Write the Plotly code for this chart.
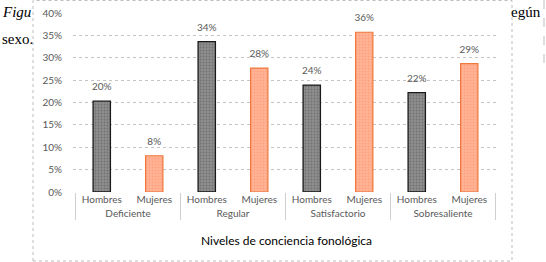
import plotly.graph_objects as go

categories = ["Deficiente", "Regular", "Satisfactorio", "Sobresaliente"]
series_names = ["Hombres", "Mujeres"]
hombres = [20.3, 33.6, 23.9, 22.2]
mujeres = [8.1, 27.7, 35.7, 28.7]
y_ticks = [0, 5, 10, 15, 20, 25, 30, 35, 40]
y_tick_labels = ["0%", "5%", "10%", "15%", "20%", "25%", "30%", "35%", "40%"]
axis_title = "Niveles de conciencia fonológica"

W, H = 546, 262
L, R, T, B = 73, 498, 13, 192  # plot area in pixels


def px(x):
    return (x - L) / (R - L)


def py(y):
    return (B - y) / (B - T)


FONT = "Lato, Calibri, Carlito, sans-serif"

styles = {
    series_names[0]: dict(color="#8a8a8a", line=dict(color="#1a1a1a", width=1.3),
                          pattern=dict(shape=".", fgcolor="#555555", bgcolor="#8e8e8e",
                                       size=3, solidity=0.3)),
    series_names[1]: dict(color="#ffab8c", line=dict(color="#f0783c", width=1.2),
                          pattern=dict(shape=".", fgcolor="#ff8a66", bgcolor="#ffb496",
                                       size=3, solidity=0.3)),
}

fig = go.Figure()
for name, vals in zip(series_names, [hombres, mujeres]):
    xs = [categories, [name] * len(categories)]
    fig.add_trace(go.Bar(name=name, x=xs, y=vals, width=0.33,
                         marker=styles[name], hoverinfo="x+y"))
for name, vals in zip(series_names, [hombres, mujeres]):
    xs = [categories, [name] * len(categories)]
    fig.add_trace(go.Scatter(
        x=xs, y=vals, mode="markers+text",
        marker=dict(size=12, color="rgba(0,0,0,0)"),
        text=[f"{v:.0f}%" for v in vals], textposition="top center",
        textfont=dict(family=FONT, size=10, color="#595959"),
        cliponaxis=False, hoverinfo="skip", showlegend=False,
    ))

shapes = [
    dict(type="rect", xref="paper", yref="paper",
         x0=px(33), x1=px(512), y0=py(261), y1=py(0.5),
         line=dict(color="#bdbdbd", width=1, dash="dot")),
    dict(type="line", xref="paper", yref="paper",
         x0=px(544), x1=px(544), y0=py(0), y1=py(67),
         line=dict(color="#bdbdbd", width=1, dash="dash")),
]

annotations = [
    dict(text=axis_title, xref="paper", yref="paper", x=px(286), y=py(240),
         showarrow=False, xanchor="center", yanchor="middle",
         font=dict(family=FONT, size=12, color="#000000")),
    dict(text="<i>Figu</i>", xref="paper", yref="paper", x=px(0), y=py(12),
         showarrow=False, xanchor="left", yanchor="middle",
         font=dict(family="Liberation Serif, serif", size=15, color="#000000")),
    dict(text="sexo.", xref="paper", yref="paper", x=px(0), y=py(39),
         showarrow=False, xanchor="left", yanchor="middle",
         font=dict(family="Liberation Serif, serif", size=15, color="#000000")),
    dict(text="egún", xref="paper", yref="paper", x=px(543), y=py(12),
         showarrow=False, xanchor="right", yanchor="middle",
         font=dict(family="Liberation Serif, serif", size=15, color="#000000")),
]

fig.update_layout(
    width=W, height=H,
    margin=dict(l=L, r=W - R, t=T, b=H - B, pad=0),
    paper_bgcolor="white", plot_bgcolor="white",
    barmode="overlay", showlegend=False,
    font=dict(family=FONT, size=10, color="#595959"),
    shapes=shapes, annotations=annotations,
    xaxis=dict(
        type="multicategory",
        showdividers=True, dividercolor="#cfcfcf", dividerwidth=1,
        tickfont=dict(family=FONT, size=10, color="#595959"),
        showline=False, showgrid=False, zeroline=False,
        automargin=False,
    ),
    yaxis=dict(
        range=[0, 40], tickmode="array", tickvals=y_ticks, ticktext=y_tick_labels,
        tickfont=dict(family=FONT, size=10, color="#595959"),
        showgrid=True, gridcolor="#c4c4c4", griddash="dot", gridwidth=1,
        zeroline=False, showline=False, ticks="", ticklabelstandoff=10,
        automargin=False,
    ),
)

fig.write_html("out.html", config={"displayModeBar": False},
               post_script="document.body.style.margin='0';document.body.style.overflow='hidden';")
